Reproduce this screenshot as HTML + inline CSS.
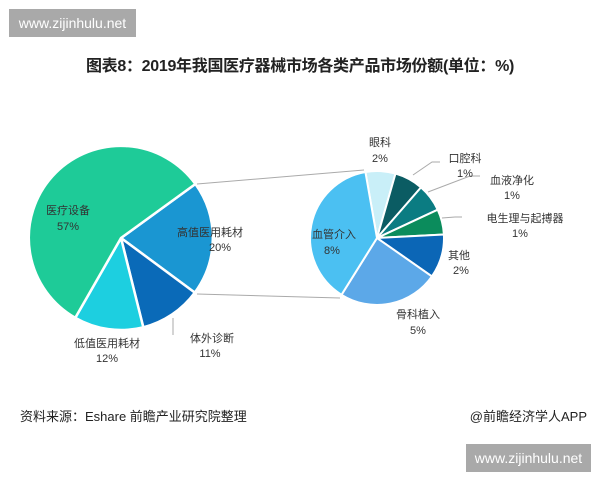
<!DOCTYPE html>
<html><head><meta charset="utf-8"><style>
body{margin:0;width:600px;height:480px;background:#fff;overflow:hidden;font-family:"Liberation Sans","Noto Sans CJK SC",sans-serif;position:relative}
.wm{position:absolute;background:#a9a9a9;color:#fff;font-size:14px;line-height:28px;height:28px;text-align:center}
</style></head><body>
<div class="wm" style="left:9px;top:9px;width:127px">www.zijinhulu.net</div>
<div style="position:absolute;left:0;width:600px;top:52px;text-align:center;font-weight:bold;font-size:16px;color:#222;letter-spacing:-0.3px">图表8：2019年我国医疗器械市场各类产品市场份额(单位：%)</div>
<svg width="600" height="480" style="position:absolute;left:0;top:0" font-family="Liberation Sans, Noto Sans CJK SC, sans-serif" font-size="11" fill="#333">
<g stroke="#fff" stroke-width="2.5">
<path d="M121,238 L195.4,184 A92,92 0 0 1 194.8,292.6 Z" fill="#1a96d2"/>
<path d="M121,238 L194.8,292.6 A92,92 0 0 1 143.3,327.3 Z" fill="#0a6ab8"/>
<path d="M121,238 L143.3,327.3 A92,92 0 0 1 75.3,317.8 Z" fill="#1dcfe0"/>
<path d="M121,238 L75.3,317.8 A92,92 0 1 1 195.4,184 Z" fill="#1ecb98"/>
</g>
<g stroke="#fff" stroke-width="2">
<path d="M377,238 L365.4,172 A67,67 0 0 1 395.5,173.6 Z" fill="#c9eff8"/>
<path d="M377,238 L395.5,173.6 A67,67 0 0 1 421,187.4 Z" fill="#0b5c63"/>
<path d="M377,238 L421,187.4 A67,67 0 0 1 437.7,209.7 Z" fill="#0b7c82"/>
<path d="M377,238 L437.7,209.7 A67,67 0 0 1 443.9,234.5 Z" fill="#0b8c5c"/>
<path d="M377,238 L443.9,234.5 A67,67 0 0 1 431.9,276.4 Z" fill="#0b66b6"/>
<path d="M377,238 L431.9,276.4 A67,67 0 0 1 341.5,294.8 Z" fill="#5ca8e8"/>
<path d="M377,238 L341.5,294.8 A67,67 0 0 1 365.4,172 Z" fill="#4bc0f2"/>
</g>
<g stroke="#aaa" stroke-width="1" fill="none">
<line x1="197" y1="184" x2="364" y2="170"/>
<line x1="197" y1="294" x2="340" y2="298"/>
<line x1="173" y1="318" x2="173" y2="335"/>
<polyline points="413,175 432,162 440,162"/>
<polyline points="428,192 470,176 480,176"/>
<polyline points="442,218 455,217 462,217"/>
</g>
<g text-anchor="middle">
<text x="68" y="214">医疗设备</text><text x="68" y="230">57%</text>
<text x="210" y="236">高值医用耗材</text><text x="220" y="251">20%</text>
<text x="212" y="342">体外诊断</text><text x="210" y="357">11%</text>
<text x="107" y="347">低值医用耗材</text><text x="107" y="362">12%</text>
<text x="380" y="146">眼科</text><text x="380" y="162">2%</text>
<text x="465" y="162">口腔科</text><text x="465" y="177">1%</text>
<text x="512" y="184">血液净化</text><text x="512" y="199">1%</text>
<text x="525" y="222">电生理与起搏器</text><text x="520" y="237">1%</text>
<text x="459" y="259">其他</text><text x="461" y="274">2%</text>
<text x="418" y="318">骨科植入</text><text x="418" y="334">5%</text>
<text x="334" y="238">血管介入</text><text x="332" y="254">8%</text>
</g>
<text x="20" y="421" font-size="13" fill="#222">资料来源：Eshare 前瞻产业研究院整理</text>
<text x="587" y="421" font-size="13" fill="#222" text-anchor="end">@前瞻经济学人APP</text>
</svg>
<div class="wm" style="left:466px;top:444px;width:125px">www.zijinhulu.net</div>
</body></html>
